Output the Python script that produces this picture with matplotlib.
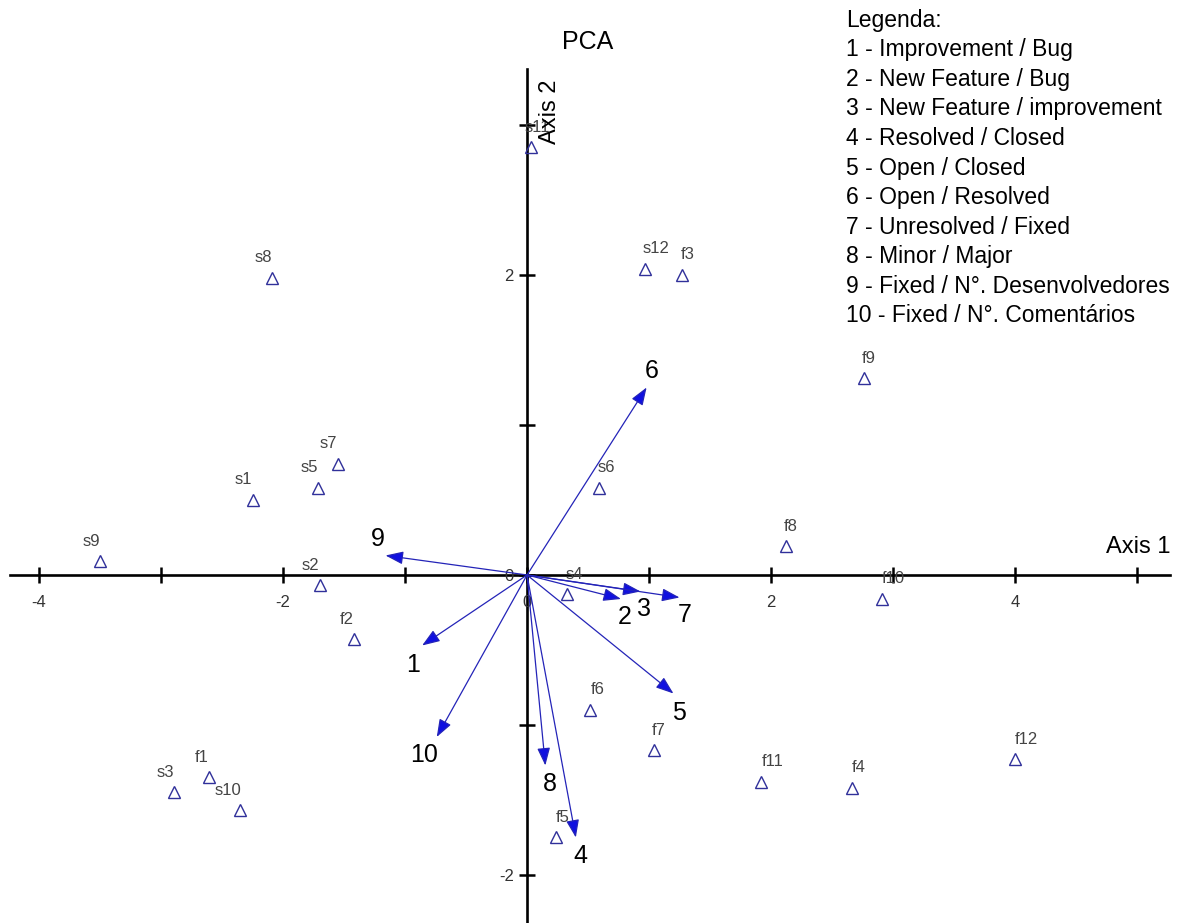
import numpy as np
import matplotlib.pyplot as plt

# scores (sites)
point_names = ['s11', 's8', 's12', 'f3', 'f9', 's7', 's5', 's1', 's6', 'f8', 's9', 's2',
               's4', 'f10', 'f2', 'f6', 'f7', 'f1', 's3', 's10', 'f11', 'f4', 'f12', 'f5']
point_x = [0.03, -2.09, 0.97, 1.27, 2.76, -1.55, -1.71, -2.25, 0.59, 2.12, -3.50, -1.70,
           0.33, 2.91, -1.42, 0.52, 1.04, -2.61, -2.89, -2.35, 1.92, 2.66, 4.00, 0.24]
point_y = [2.85, 1.98, 2.04, 2.00, 1.31, 0.74, 0.58, 0.50, 0.58, 0.19, 0.09, -0.07,
           -0.13, -0.16, -0.43, -0.90, -1.17, -1.35, -1.45, -1.57, -1.38, -1.42, -1.23, -1.75]

# variable loadings (arrows)
vec_names = ['1', '2', '3', '4', '5', '6', '7', '8', '9', '10']
vec_x = [-0.86, 0.77, 0.93, 0.40, 1.20, 0.98, 1.25, 0.15, -1.16, -0.74]
vec_y = [-0.47, -0.16, -0.11, -1.75, -0.79, 1.25, -0.15, -1.27, 0.13, -1.08]

legend_lines = ['Legenda:',
                '1 - Improvement / Bug',
                '2 - New Feature / Bug',
                '3 - New Feature / improvement',
                '4 - Resolved / Closed',
                '5 - Open / Closed',
                '6 - Open / Resolved',
                '7 - Unresolved / Fixed',
                '8 - Minor / Major',
                '9 - Fixed / N°. Desenvolvedores',
                '10 - Fixed / N°. Comentários']

# label offsets in pixels (layout only)
point_dx = [7, -9, 11, 6, 5, -10, -9, -9, 7, 5, -9, -9, 7, 11, -7, 7, 5, -7, -9, -12, 11, 7, 11, 6]
vec_off = [(-9, -20), (4, -18), (4, -18), (5, -19), (6, -20), (5, 16), (5, -18), (5, -19), (-8, 16), (-13, -18)]

px = 72 / 100.0
narrow = ['Liberation Sans Narrow', 'Liberation Sans']
fig = plt.figure(figsize=(11.84, 9.23), dpi=100)
ax = fig.add_axes([0, 0, 1, 1])
ax.set_xlim(-4.32, 5.385)
ax.set_ylim(-2.32, 3.833)
ax.set_facecolor('none')

for s in ['top', 'right']:
    ax.spines[s].set_visible(False)
ax.spines['left'].set_position(('data', 0))
ax.spines['bottom'].set_position(('data', 0))
ax.spines['left'].set_bounds(-2.32, 3.37)
ax.spines['bottom'].set_bounds(-4.24, 5.27)
for s in ['left', 'bottom']:
    ax.spines[s].set_linewidth(1.9)
    ax.spines[s].set_zorder(1)

xt = np.arange(-4, 6)
yt = np.arange(-2, 4)
ax.set_xticks(xt)
ax.set_xticklabels([str(v) if v % 2 == 0 else '' for v in xt])
ax.set_yticks(yt)
ax.set_yticklabels([str(v) if v % 2 == 0 else '' for v in yt])
ax.tick_params(direction='inout', length=11, width=1.8, labelsize=12, labelcolor='#333333')
for lab in ax.get_xticklabels() + ax.get_yticklabels():
    lab.set_family(narrow)
ax.tick_params(axis='x', pad=9)
ax.tick_params(axis='y', pad=4)

# arrows
for name, x, y, (dx, dy) in zip(vec_names, vec_x, vec_y, vec_off):
    ax.annotate('', xy=(x, y), xytext=(0, 0),
                arrowprops=dict(arrowstyle='-|>,head_length=0.6,head_width=0.22',
                                edgecolor='#2424b8', facecolor='#1010e0', lw=0.9,
                                mutation_scale=18, shrinkA=0, shrinkB=0), zorder=3)
    ax.annotate(name, xy=(x, y), xytext=(dx * px, dy * px), textcoords='offset points',
                ha='center', va='center', fontsize=18, color='black',
                family=narrow, zorder=4)

# points
ax.plot(point_x, point_y, linestyle='none', marker='^', markersize=8.5,
        markerfacecolor='none', markeredgecolor='#30309a', markeredgewidth=1.0, zorder=3)
for name, x, y, dx in zip(point_names, point_x, point_y, point_dx):
    ax.annotate(name, xy=(x, y), xytext=(dx * px, 20 * px), textcoords='offset points',
                ha='center', va='center', fontsize=12, color='#444444',
                family=narrow, zorder=4)

# titles
fig.text(588 / 1184, 1 - 42 / 923, 'PCA', ha='center', va='center', fontsize=18,
         family='Liberation Sans')
fig.text(1170 / 1184, 1 - 547 / 923, 'Axis 1', ha='right', va='center', fontsize=17,
         family='Liberation Sans')
fig.text(550 / 1184, 1 - 112 / 923, 'Axis 2', ha='center', va='center', fontsize=17,
         rotation=90, family='Liberation Sans')

# legend block
for i, line in enumerate(legend_lines):
    fig.text(846 / 1184, 1 - (20 + 29.6 * i) / 923, line, ha='left', va='center',
             fontsize=16.5, family='Liberation Sans')

fig.savefig('out.png', dpi=100)
